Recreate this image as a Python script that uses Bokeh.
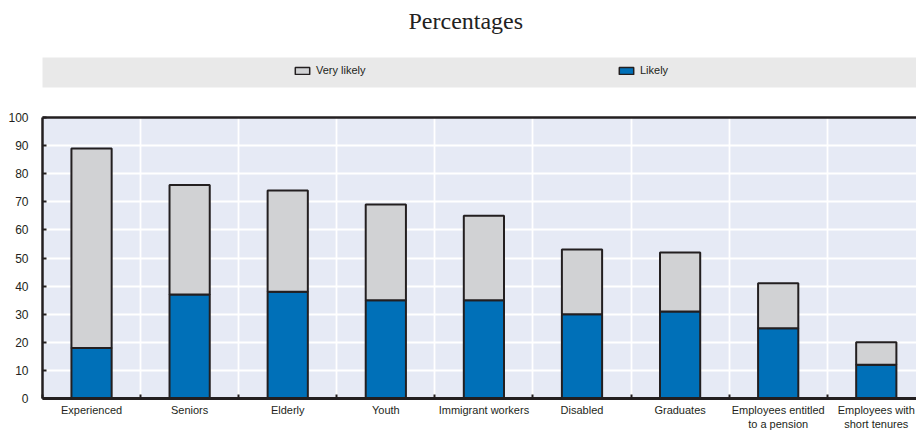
from bokeh.plotting import figure
from bokeh.models import (Range1d, FixedTicker, LinearAxis, Legend, LegendItem,
                          ColumnDataSource)
from bokeh.layouts import column
from bokeh.embed import file_html
from bokeh.resources import INLINE

# ---- data ----
categories = ["Experienced", "Seniors", "Elderly", "Youth", "Immigrant workers",
              "Disabled", "Graduates", "Employees entitled\nto a pension",
              "Employees with\nshort tenures"]
likely = [18, 37, 38, 35, 35, 30, 31, 25, 12]
very_likely = [71, 39, 36, 34, 30, 23, 21, 16, 8]
y_ticks = [0, 10, 20, 30, 40, 50, 60, 70, 80, 90, 100]
series_names = ["Very likely", "Likely"]
title_text = "Percentages"

# ---- styles ----
FONT = "Liberation Sans"
DARK = "#231f20"
BLUE = "#0070b8"
GREY = "#d1d2d4"
PLOT_BG = "#e6eaf5"
BAND = "#e9e9e9"

n = len(categories)
centers = [i + 0.5 for i in range(n)]
bounds = list(range(n + 1))
src = ColumnDataSource(dict(x=centers, likely=likely, very_likely=very_likely))


def blank_fig(h, **kw):
    f = figure(width=916, height=h, x_range=Range1d(0, 1), y_range=Range1d(0, 1),
               x_axis_type=None, y_axis_type=None, toolbar_location=None,
               output_backend="svg", border_fill_color="white",
               outline_line_color=None, **kw)
    f.xgrid.visible = False
    f.ygrid.visible = False
    return f


# ---- title ----
tfig = blank_fig(49, min_border_left=42, min_border_right=0, min_border_top=0,
                 min_border_bottom=0, background_fill_color="white", title=title_text)
tfig.title.text_font = "Liberation Serif"
tfig.title.text_font_size = "24px"
tfig.title.text_font_style = "normal"
tfig.title.text_color = "#222222"
tfig.title.align = "left"
tfig.title.vertical_align = "top"
tfig.title.offset = 366
tfig.title.standoff = 14

# ---- legend band ----
band = blank_fig(49, min_border_left=42, min_border_right=0, min_border_top=8,
                 min_border_bottom=11, background_fill_color=BAND)
nan = float("nan")
r_vl = band.vbar(x=[nan], top=[nan], width=0.1, fill_color=GREY, line_color=DARK, line_width=1.5)
r_l = band.vbar(x=[nan], top=[nan], width=0.1, fill_color=BLUE, line_color=DARK, line_width=1.5)
legend = Legend(items=[LegendItem(label=series_names[0], renderers=[r_vl]),
                       LegendItem(label=series_names[1], renderers=[r_l])],
                location=(251, 11), orientation="horizontal",
                glyph_width=18, glyph_height=9, label_height=9, label_width=301,
                label_standoff=5, spacing=0, padding=0, margin=0,
                background_fill_alpha=0, border_line_color=None,
                label_text_font=FONT, label_text_font_size="11px",
                label_text_color=DARK)
band.add_layout(legend)

# ---- main chart ----
p = figure(width=916, height=334, x_range=Range1d(0, 8.91), y_range=Range1d(0, 100),
           toolbar_location=None, output_backend="svg",
           min_border_left=40, min_border_right=0, min_border_top=19, min_border_bottom=33,
           background_fill_color=PLOT_BG, border_fill_color="white",
           outline_line_color=None)

p.vbar_stack(["likely", "very_likely"], x="x", width=0.41, source=src,
             fill_color=[BLUE, GREY], line_color=DARK, line_width=2)

p.xaxis.ticker = FixedTicker(ticks=centers, minor_ticks=bounds)
p.xaxis.major_label_overrides = {c: lab for c, lab in zip(centers, categories)}
p.xaxis.major_tick_line_color = None
p.xaxis.major_tick_in = 0
p.xaxis.major_tick_out = 0
p.xaxis.minor_tick_in = 4
p.xaxis.minor_tick_out = 0
p.xaxis.minor_tick_line_color = DARK
p.xaxis.minor_tick_line_width = 2
p.xaxis.axis_line_color = DARK
p.xaxis.axis_line_width = 3
p.xaxis.major_label_text_font = FONT
p.xaxis.major_label_text_font_size = "11px"
p.xaxis.major_label_text_color = DARK
p.xaxis.major_label_standoff = 5

p.yaxis.ticker = FixedTicker(ticks=y_ticks)
p.yaxis.major_tick_in = 4
p.yaxis.major_tick_out = 0
p.yaxis.major_tick_line_color = DARK
p.yaxis.major_tick_line_width = 2
p.yaxis.minor_tick_line_color = None
p.yaxis.axis_line_color = DARK
p.yaxis.axis_line_width = 2.5
p.yaxis.major_label_text_font = FONT
p.yaxis.major_label_text_font_size = "12px"
p.yaxis.major_label_text_color = DARK
p.yaxis.major_label_standoff = 14

top_axis = LinearAxis(ticker=FixedTicker(ticks=[]), major_label_text_font_size="0px",
                      major_tick_line_color=None, minor_tick_line_color=None,
                      axis_line_color=DARK, axis_line_width=2.5)
p.add_layout(top_axis, "above")

p.xgrid.ticker = FixedTicker(ticks=bounds)
p.xgrid.grid_line_color = "white"
p.xgrid.grid_line_width = 1.8
p.ygrid.grid_line_color = "white"
p.ygrid.grid_line_width = 1.8

layout = column(tfig, band, p)
open("out.html", "w").write(file_html(layout, INLINE))
